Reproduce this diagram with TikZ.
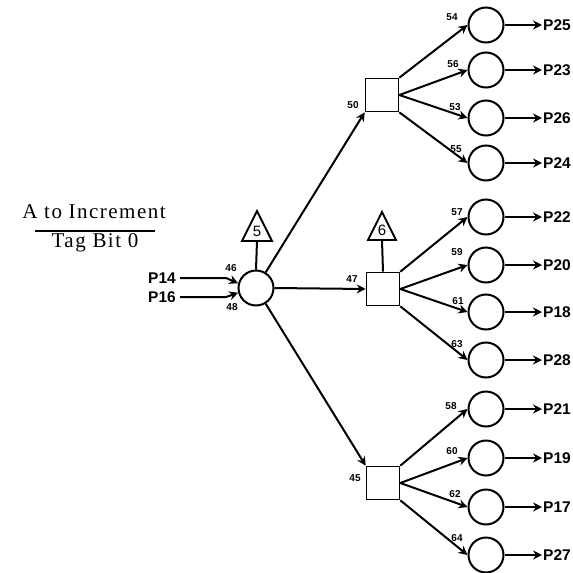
\documentclass[tikz,border=0pt]{standalone}
\usepackage{fontspec}
\usetikzlibrary{arrows.meta}
\newfontfamily\labfont{Liberation Sans}
\newfontfamily\titlefont[LetterSpace=7]{Liberation Serif}
\begin{document}
\begin{tikzpicture}[x=1pt,y=-1pt,
  ln/.style={line width=2pt},
  arr/.style={line width=2pt,-{Stealth[length=9pt,width=9pt,inset=3pt]}},
  circ/.style={draw,line width=2pt,circle,minimum size=35pt,inner sep=0pt},
  sq/.style={draw,line width=1.6pt,minimum size=33pt,inner sep=0pt},
  big/.style={font=\labfont\bfseries\fontsize{15.5}{15.5}\selectfont,inner sep=0pt},
  small/.style={font=\labfont\bfseries\fontsize{10}{10}\selectfont,inner sep=0pt},
  trinum/.style={font=\labfont\fontsize{15}{15}\selectfont,inner sep=0pt},
  tribox/.style={line width=1.8pt,line join=miter},
  ttl/.style={font=\titlefont\fontsize{21}{21}\selectfont,inner sep=0pt}]
\useasboundingbox (0,0) rectangle (573,573);
% title
\node[ttl] (t1) at (94,212) {A to Increment};
\node[ttl] (t2) at (95,243) {Tag Bit 0};
\draw[line width=1.8pt] (35,231) -- (155,231);
% main circle
\node[circ] (c0) at (256,288) {};
\draw[tribox] (257,211) -- (272,241) -- (242,241) -- cycle;
\node[trinum] (n5) at (257,231) {5};
\coordinate (t5b) at (257,241);
\draw[ln] (t5b) -- (c0.north);
% inputs
\node[big,anchor=east] (p14) at (176,278) {P14};
\node[big,anchor=east] (p16) at (176,297) {P16};
\draw[arr,shorten <=4pt] (p14.east) -- ++(50,0) -- (c0.165);
\draw[arr,shorten <=4pt] (p16.east) -- ++(50,0) -- (c0.195);
\node[small] (l46) at (231,268) {46};
\node[small] (l48) at (232,307) {48};
% squares
\node[sq] (s1) at (382,95) {};
\node[sq] (s2) at (383,289) {};
\node[sq] (s3) at (383,483) {};
\draw[tribox] (382,212) -- (396,240) -- (368,240) -- cycle;
\node[trinum] (n6) at (382,230) {6};
\coordinate (t6b) at (382,240);
\draw[ln] (t6b) -- (s2.north);
\draw[arr] (c0) -- (s1.south west);
\draw[arr] (c0.east) -- (s2.west);
\draw[arr] (c0) -- (s3.north west);
\node[small] (l50) at (353,105) {50};
\node[small] (l47) at (352,279) {47};
\node[small] (l45) at (355,478) {45};
% output circles
\foreach \nm/\y/\lab/\lx/\ly/\out/\src in {
  a1/25/54/452/17/P25/s1.north east,
  a2/70/56/453/64/P23/s1.east,
  a3/118/53/455/107/P26/s1.east,
  a4/163/55/456/149/P24/s1.south east,
  b1/217/57/457/212/P22/s2.north east,
  b2/265/59/457/252/P20/s2.east,
  b3/312/61/458/301/P18/s2.east,
  b4/360/63/457/344/P28/s2.south east,
  d1/409/58/451/406/P21/s3.north east,
  d2/458/60/452/451/P19/s3.east,
  d3/507/62/455/494/P17/s3.east,
  d4/555/64/457/538/P27/s3.south east}{
  \node[circ] (\nm) at (486,\y) {};
  \node[big,anchor=west] (o\nm) at (543,\y) {\out};
  \node[small] (l\nm) at (\lx,\ly) {\lab};
  \draw[arr] (\src) -- (\nm.west);
  \draw[arr,shorten >=1pt] (\nm.east) -- (o\nm.west);
}
\end{tikzpicture}
\end{document}
